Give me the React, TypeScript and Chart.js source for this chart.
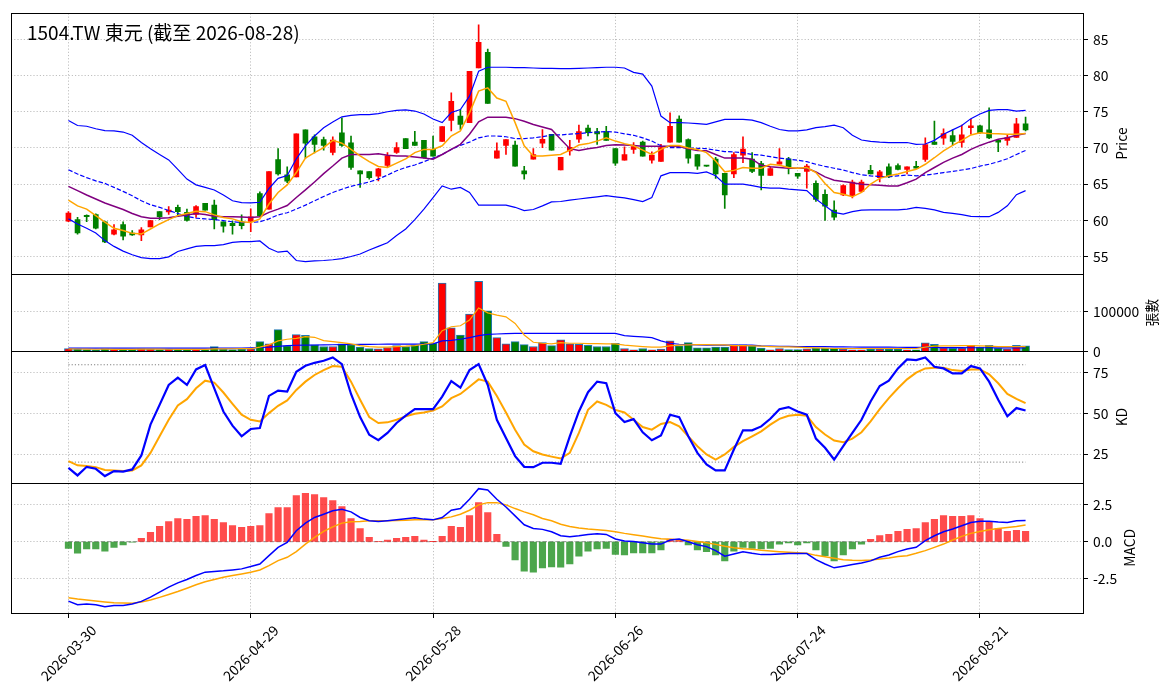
import { useEffect, useRef } from "react";
import Chart from "chart.js/auto";

const title = "1504.TW 東元 (截至 2026-08-28)";

const dates = [
  "2026-03-30", "2026-03-31", "2026-04-01", "2026-04-02", "2026-04-07", "2026-04-08", "2026-04-09", "2026-04-10",
  "2026-04-13", "2026-04-14", "2026-04-15", "2026-04-16", "2026-04-17", "2026-04-20", "2026-04-21", "2026-04-22", "2026-04-23", "2026-04-24",
  "2026-04-27", "2026-04-28", "2026-04-29", "2026-04-30", "2026-05-04", "2026-05-05", "2026-05-06", "2026-05-07", "2026-05-08",
  "2026-05-11", "2026-05-12", "2026-05-13", "2026-05-14", "2026-05-15", "2026-05-18", "2026-05-19", "2026-05-20", "2026-05-21", "2026-05-22",
  "2026-05-25", "2026-05-26", "2026-05-27", "2026-05-28", "2026-05-29", "2026-06-01", "2026-06-02", "2026-06-03", "2026-06-04", "2026-06-05",
  "2026-06-08", "2026-06-09", "2026-06-10", "2026-06-11", "2026-06-12", "2026-06-15", "2026-06-16", "2026-06-17", "2026-06-18",
  "2026-06-22", "2026-06-23", "2026-06-24", "2026-06-25", "2026-06-26", "2026-06-29", "2026-06-30", "2026-07-01", "2026-07-02", "2026-07-03",
  "2026-07-06", "2026-07-07", "2026-07-08", "2026-07-09", "2026-07-10", "2026-07-13", "2026-07-14", "2026-07-15", "2026-07-16", "2026-07-17",
  "2026-07-20", "2026-07-21", "2026-07-22", "2026-07-23", "2026-07-24", "2026-07-27", "2026-07-28", "2026-07-29", "2026-07-30", "2026-07-31",
  "2026-08-03", "2026-08-04", "2026-08-05", "2026-08-06", "2026-08-07", "2026-08-10", "2026-08-11", "2026-08-12", "2026-08-13", "2026-08-14",
  "2026-08-17", "2026-08-18", "2026-08-19", "2026-08-20", "2026-08-21", "2026-08-24", "2026-08-25", "2026-08-26", "2026-08-27", "2026-08-28",
];

// x ticks are every 20 trading days
const xTickIndex = [0, 20, 40, 60, 80, 100];

const openPrices = [
  59.9, 60.1, 60.7, 60.8, 59.8, 58.1, 59.4, 58.25, 58.0, 59.1, 61.2, 61.15, 61.8, 61.1, 60.8, 62.35, 62.1, 59.8, 59.6, 59.8,
  59.85, 63.7, 61.55, 68.4, 66.3, 66.0, 72.5, 71.55, 71.15, 69.4, 72.1, 70.7, 66.85, 66.75, 66.1, 67.6, 69.4, 71.3, 70.8, 71.05,
  69.8, 70.9, 73.8, 74.4, 73.5, 81.05, 83.2, 68.6, 70.35, 70.4, 66.85, 68.45, 70.65, 71.9, 66.95, 69.6, 71.2, 72.75, 72.25, 72.25,
  69.9, 68.3, 69.8, 70.8, 68.3, 68.15, 70.8, 74.0, 71.15, 69.1, 67.55, 68.45, 66.5, 66.4, 69.0, 68.45, 67.85, 66.2, 67.75, 68.5,
  66.5, 66.75, 65.1, 63.6, 61.4, 63.5, 63.4, 64.0, 66.9, 65.9, 67.4, 67.55, 67.05, 67.45, 68.4, 70.8, 71.35, 71.7, 70.75, 72.8,
  73.05, 72.5, 71.05, 71.05, 71.45, 73.35,
];
const highPrices = [
  61.2, 60.4, 60.75, 60.9, 59.9, 59.4, 59.8, 58.6, 59.0, 60.0, 61.2, 61.9, 62.1, 61.55, 62.05, 62.35, 62.8, 59.8, 59.9, 60.75,
  61.6, 63.95, 66.75, 69.9, 67.4, 71.95, 72.5, 71.8, 71.5, 71.55, 74.15, 71.65, 66.85, 66.75, 67.2, 69.35, 70.75, 71.3, 72.3, 71.05,
  71.65, 72.95, 77.6, 75.3, 80.6, 87.0, 83.65, 70.7, 71.15, 70.95, 67.45, 69.9, 72.55, 71.9, 68.7, 71.05, 73.15, 73.15, 72.7, 73.0,
  69.9, 70.15, 70.75, 70.95, 69.45, 70.5, 74.85, 74.45, 71.25, 69.1, 67.6, 68.7, 66.5, 69.35, 71.55, 69.35, 68.15, 67.4, 69.9, 68.7,
  66.5, 67.75, 65.45, 64.2, 62.7, 64.9, 65.55, 65.55, 67.6, 66.9, 67.8, 67.8, 67.4, 68.15, 71.4, 73.7, 72.65, 72.5, 73.15, 73.95,
  73.15, 75.55, 71.05, 71.75, 74.1, 74.25,
];
const lowPrices = [
  59.8, 58.1, 59.8, 58.8, 56.9, 58.0, 57.3, 57.9, 57.2, 59.1, 60.1, 60.8, 60.5, 59.9, 60.4, 61.4, 58.8, 58.35, 58.1, 58.8,
  58.45, 60.55, 61.55, 66.25, 65.2, 66.0, 68.6, 69.3, 69.7, 69.05, 70.2, 67.05, 64.55, 65.7, 65.45, 67.4, 69.25, 69.9, 70.35, 68.6,
  68.85, 70.9, 72.35, 72.55, 73.5, 81.05, 76.15, 68.6, 69.1, 67.5, 65.7, 68.45, 70.05, 69.7, 66.95, 69.0, 70.75, 71.65, 70.5, 71.05,
  67.6, 68.3, 69.25, 68.85, 67.9, 68.15, 70.8, 70.8, 67.9, 67.05, 67.45, 65.8, 61.65, 65.9, 67.95, 66.6, 64.2, 66.2, 67.75, 66.4,
  65.8, 64.45, 62.6, 60.0, 60.05, 63.4, 63.1, 63.9, 66.4, 65.3, 65.9, 66.95, 66.4, 67.2, 68.15, 70.5, 70.5, 70.4, 70.1, 71.9,
  72.0, 71.3, 69.5, 70.4, 71.45, 72.35,
];
const closePrices = [
  61.0, 58.25, 60.5, 58.9, 57.0, 58.7, 57.8, 58.0, 58.7, 59.95, 60.5, 61.4, 61.2, 60.0, 61.9, 61.4, 60.1, 59.2, 59.25, 59.25,
  60.5, 60.6, 66.75, 66.4, 65.4, 71.95, 70.65, 70.5, 70.35, 71.1, 70.35, 67.3, 66.4, 65.9, 67.1, 68.9, 70.05, 69.9, 70.35, 68.65,
  68.85, 72.95, 76.45, 73.25, 80.6, 84.6, 76.15, 69.6, 71.15, 67.5, 66.4, 69.1, 71.2, 69.7, 68.7, 70.1, 72.25, 72.1, 71.95, 71.05,
  67.9, 69.1, 70.2, 68.85, 69.0, 70.05, 73.0, 70.8, 68.6, 67.5, 67.5, 66.4, 63.5, 69.1, 69.85, 66.75, 66.2, 67.15, 68.1, 67.4,
  66.1, 67.5, 62.9, 61.95, 60.45, 64.8, 65.3, 65.3, 66.4, 66.7, 66.0, 67.05, 67.4, 67.2, 70.45, 70.5, 72.0, 70.9, 71.8, 73.05,
  72.1, 71.4, 70.8, 71.45, 73.35, 72.5,
];

const ma5 = [
  62.8, 62.0, 61.55, 60.65, 59.75, 58.9, 58.6, 58.2, 58.1, 58.8, 59.5, 60.1, 60.65, 60.95, 61.25, 61.2, 60.75, 60.4, 60.2, 59.8,
  59.7, 60.2, 62.25, 63.85, 64.9, 66.6, 68.6, 69.35, 70.05, 71.05, 70.65, 69.8, 68.9, 68.1, 67.45, 67.3, 67.9, 68.5, 69.35, 69.8,
  69.8, 70.3, 71.65, 72.35, 74.85, 77.85, 78.3, 76.9, 76.45, 73.5, 70.3, 68.9, 68.9, 69.0, 69.1, 69.7, 70.4, 70.6, 70.95, 71.4,
  70.95, 70.6, 70.3, 69.7, 69.1, 69.8, 70.35, 70.35, 70.0, 69.8, 69.35, 68.2, 66.7, 66.9, 67.3, 67.2, 67.2, 67.75, 67.6, 67.3,
  67.2, 67.3, 66.6, 65.1, 63.85, 63.6, 63.25, 63.85, 65.0, 65.8, 66.15, 66.4, 66.75, 67.05, 67.75, 68.65, 69.6, 70.35, 71.05, 71.8,
  72.1, 72.0, 71.95, 71.9, 71.9, 72.0,
];
const ma10 = [
  64.7, 64.1, 63.5, 62.95, 62.4, 61.95, 61.5, 60.95, 60.5, 60.3, 60.3, 60.35, 60.55, 60.75, 60.95, 60.8, 60.55, 60.5, 60.5, 60.45,
  60.4, 60.5, 61.1, 61.55, 62.05, 63.15, 64.2, 65.3, 66.45, 67.5, 68.6, 69.1, 69.1, 69.1, 69.2, 69.0, 68.9, 68.9, 68.75, 68.6,
  68.45, 69.1, 69.8, 70.5, 71.9, 73.6, 74.25, 74.25, 74.25, 74.05, 73.7, 73.25, 72.9, 72.55, 71.2, 69.9, 69.65, 69.9, 70.05, 70.35,
  70.45, 70.4, 70.35, 70.25, 70.25, 70.25, 70.25, 70.2, 69.9, 69.65, 69.6, 69.1, 68.6, 68.6, 68.6, 68.45, 67.6, 67.4, 67.3, 67.2,
  67.2, 67.2, 66.7, 66.0, 65.55, 65.35, 65.2, 65.0, 64.9, 64.85, 64.75, 64.75, 65.2, 65.7, 66.6, 67.3, 68.0, 68.6, 69.1, 69.8,
  70.35, 70.8, 71.2, 71.4, 71.75, 72.0,
];
const bbUpper = [
  73.8, 73.1, 73.0, 72.65, 72.4, 72.35, 72.2, 71.75, 70.75, 69.9, 69.1, 68.35, 67.05, 65.7, 64.9, 64.55, 64.2, 63.5, 62.7, 62.45,
  62.4, 62.5, 64.4, 65.8, 66.2, 68.5, 70.3, 71.65, 72.8, 73.6, 74.3, 74.5, 74.6, 74.6, 74.75, 75.0, 75.2, 75.25, 75.1, 74.7,
  74.0, 73.5, 74.9, 75.3, 77.15, 80.6, 81.15, 81.15, 81.15, 81.1, 81.1, 81.05, 81.0, 81.0, 80.95, 80.95, 81.0, 81.05, 81.1, 81.15,
  81.15, 81.05, 80.45, 80.2, 78.55, 74.4, 73.5, 73.5, 73.45, 73.35, 73.25, 73.6, 73.95, 73.95, 73.95, 73.85, 73.5, 73.0, 72.55, 72.35,
  72.35, 72.5, 72.8, 72.95, 73.15, 72.8, 71.75, 71.1, 70.9, 70.8, 70.75, 70.75, 70.75, 70.5, 70.55, 71.05, 71.9, 72.5, 73.1, 74.05,
  74.7, 75.2, 75.3, 75.3, 75.1, 75.2,
];
const bbMid = [
  67.0, 66.4, 65.9, 65.45, 65.1, 64.55, 64.0, 63.4, 62.7, 62.15, 61.8, 61.35, 60.95, 60.55, 60.3, 60.2, 60.1, 59.95, 59.8, 59.7,
  59.7, 59.8, 60.2, 60.75, 61.05, 61.55, 62.1, 62.7, 63.3, 63.85, 64.3, 64.7, 65.0, 65.3, 65.7, 66.25, 66.85, 67.3, 67.65, 68.1,
  68.6, 69.1, 69.8, 70.35, 70.8, 71.4, 71.65, 71.65, 71.55, 71.3, 71.3, 71.4, 71.55, 71.8, 71.8, 71.9, 72.0, 72.1, 72.2, 72.25,
  72.2, 71.95, 71.75, 71.4, 70.95, 70.3, 70.05, 70.05, 70.0, 69.95, 69.9, 69.7, 69.5, 69.45, 69.35, 69.1, 69.0, 68.8, 68.6, 68.45,
  68.3, 68.1, 67.75, 67.45, 67.2, 66.95, 66.6, 66.3, 66.15, 66.05, 66.05, 66.15, 66.25, 66.15, 66.25, 66.4, 66.6, 66.75, 66.95, 67.15,
  67.5, 67.75, 68.1, 68.5, 69.1, 69.65,
];
const bbLower = [
  60.2, 59.5, 58.9, 58.25, 57.2, 56.4, 55.75, 55.25, 54.85, 54.7, 54.7, 54.95, 55.7, 56.05, 56.4, 56.5, 56.5, 56.65, 56.95, 57.05,
  57.05, 57.15, 56.15, 55.6, 55.75, 54.45, 54.3, 54.4, 54.45, 54.55, 54.7, 55.0, 55.35, 55.9, 56.4, 56.9, 57.9, 58.8, 60.1, 61.55,
  63.15, 64.75, 64.3, 64.55, 63.85, 62.1, 62.1, 62.1, 62.1, 61.8, 61.35, 61.5, 62.0, 62.55, 62.6, 62.8, 62.95, 63.1, 63.25, 63.4,
  63.25, 63.1, 62.85, 62.6, 63.15, 66.15, 66.6, 66.6, 66.6, 66.5, 66.7, 66.15, 65.0, 65.0, 65.0, 64.8, 64.55, 64.45, 64.45, 64.3,
  64.2, 64.1, 62.95, 62.0, 61.1, 60.85, 61.2, 61.4, 61.45, 61.45, 61.45, 61.45, 61.55, 61.8, 61.65, 61.45, 61.1, 60.95, 60.8, 60.55,
  60.5, 60.5, 61.1, 62.0, 63.55, 64.1,
];

const volumes = [
  7000, 6000, 5000, 4000, 6500, 5000, 6000, 5500, 6500, 5500, 5000, 5500, 5000, 4500, 6000, 5000, 12000, 6000, 5000, 5500,
  6500, 25000, 19000, 55000, 14000, 42400, 40800, 16600, 12400, 12400, 19100, 16600, 10800, 7400, 6600, 9900, 14900, 12400, 16600, 24900,
  20800, 172400, 59900, 41600, 94100, 177200, 102400, 34900, 19100, 24900, 17400, 12400, 22400, 14900, 29500, 19100, 18300, 15700, 12400, 12400,
  20800, 7400, 4100, 7400, 4100, 5750, 27000, 14100, 22400, 9100, 9000, 10750, 10750, 16600, 16600, 14100, 8250, 4100, 7400, 5000,
  5000, 6600, 8250, 8250, 8250, 5750, 4100, 4100, 5750, 5750, 5750, 5750, 4100, 4100, 22000, 18000, 9000, 8000, 8250, 15500,
  10750, 15500, 8250, 6500, 15700, 14100,
];
const volMa5 = [
  6500, 6200, 5800, 5600, 5700, 5300, 5300, 5400, 5800, 5700, 5700, 5600, 5500, 5300, 5300, 5200, 6600, 6700, 6800, 6900,
  6900, 10900, 16600, 26600, 30750, 33250, 37400, 35750, 27400, 24900, 22400, 19100, 14900, 12400, 10750, 10750, 12400, 13250, 14900, 18250,
  22400, 52400, 62400, 64900, 79100, 109900, 97400, 91600, 87400, 70750, 41600, 23300, 20750, 19100, 22400, 20750, 20750, 20000, 20000, 19100,
  19100, 15750, 14100, 12400, 10750, 10750, 14100, 15750, 16600, 17400, 17400, 16600, 16600, 14900, 14900, 14100, 13250, 12400, 11600, 11600,
  10750, 9900, 9100, 8250, 7400, 7400, 7400, 7400, 7400, 7400, 7400, 7400, 7400, 7400, 10750, 13250, 14100, 14100, 14900, 14900,
  14100, 13250, 12400, 12400, 12400, 12400,
];
const volMa20 = [
  8500, 8500, 8500, 8500, 8500, 8500, 8500, 8500, 8500, 8500, 8500, 8500, 8500, 8500, 8500, 8500, 8500, 8500, 8500, 8500,
  9000, 10000, 11000, 13000, 14500, 15700, 16000, 16300, 16600, 16900, 17200, 17500, 17800, 18000, 18200, 18300, 18300, 18300, 18300, 18600,
  19100, 26600, 28000, 30750, 35000, 40000, 43300, 44000, 44800, 45750, 45750, 45750, 45750, 45750, 45750, 45750, 45750, 45750, 45750, 45750,
  45750, 39900, 38000, 36600, 35000, 26600, 20750, 18250, 17400, 16600, 15750, 15750, 15750, 15750, 15750, 15750, 14100, 13600, 13200, 12800,
  12400, 12400, 12400, 12000, 11600, 11400, 11200, 11000, 10900, 10800, 10700, 10600, 10500, 10300, 10100, 10000, 9800, 9600, 9500, 9400,
  9300, 9300, 9200, 9200, 9100, 9100,
];

const kLine = [
  16.5, 11.8, 17.1, 15.9, 11.4, 14.5, 14.1, 15.5, 24.1, 43.1, 55.3, 67.55, 72.0, 67.55, 77.1, 79.8, 65.5, 51.2, 42.45, 35.9,
  40.4, 41.0, 60.8, 64.1, 63.5, 75.7, 79.4, 81.2, 82.45, 84.5, 80.4, 62.0, 47.75, 36.9, 33.5, 38.0, 44.1, 48.6, 52.65, 52.65,
  52.65, 60.4, 70.0, 65.9, 76.7, 80.4, 67.55, 46.1, 34.9, 23.7, 17.1, 16.9, 19.6, 19.6, 19.0, 35.9, 51.2, 63.1, 69.6, 68.6,
  50.2, 44.7, 46.5, 38.4, 33.5, 36.5, 49.2, 47.75, 35.9, 25.7, 18.6, 14.9, 14.9, 27.75, 39.6, 39.6, 42.0, 46.7, 52.65, 53.9,
  51.2, 49.2, 34.5, 28.8, 21.6, 29.8, 38.0, 46.1, 57.35, 66.9, 70.2, 77.75, 83.3, 82.9, 84.5, 78.8, 77.75, 74.7, 74.7, 79.2,
  77.75, 69.6, 58.4, 48.2, 53.3, 51.8,
];
const dLine = [
  20.6, 18.0, 17.55, 16.9, 15.1, 14.9, 14.5, 14.9, 18.0, 25.7, 35.9, 46.1, 54.9, 58.8, 65.5, 70.2, 69.0, 62.9, 55.9, 49.2,
  46.1, 45.1, 50.2, 54.7, 58.0, 64.5, 69.6, 73.7, 76.7, 79.2, 78.8, 69.6, 58.4, 47.75, 44.1, 44.5, 46.1, 48.2, 49.8, 50.6,
  51.8, 54.3, 59.4, 62.0, 66.5, 71.0, 69.6, 60.8, 50.6, 40.0, 30.8, 26.7, 24.7, 23.4, 22.2, 25.7, 38.0, 52.2, 57.35, 55.3,
  52.2, 50.6, 46.1, 41.6, 40.0, 43.5, 44.7, 42.0, 35.9, 29.8, 24.7, 21.6, 24.7, 29.4, 32.9, 35.9, 39.0, 43.1, 46.7, 48.6,
  49.2, 48.6, 41.6, 37.0, 33.3, 32.2, 34.5, 38.4, 45.1, 52.65, 59.4, 65.5, 71.0, 75.1, 77.75, 78.2, 78.2, 76.7, 76.1, 77.1,
  77.1, 74.1, 68.6, 62.0, 59.0, 56.3,
];
const kdLevels = [20, 80];

const macdLine = [
  -4.0, -4.24, -4.2, -4.24, -4.38, -4.29, -4.29, -4.2, -4.02, -3.73, -3.39, -3.06, -2.77, -2.54, -2.28, -2.05, -2.0, -1.96, -1.9, -1.83,
  -1.67, -1.5, -0.94, -0.38, -0.04, 0.74, 1.25, 1.63, 1.85, 2.08, 2.19, 2.01, 1.63, 1.41, 1.36, 1.41, 1.47, 1.54, 1.61, 1.52,
  1.47, 1.63, 2.12, 2.23, 2.86, 3.57, 3.48, 2.86, 2.34, 1.74, 1.14, 0.89, 0.83, 0.67, 0.4, 0.33, 0.4, 0.49, 0.54, 0.49,
  0.18, 0.04, 0.02, -0.07, -0.16, -0.16, 0.11, 0.18, 0.0, -0.2, -0.33, -0.6, -0.98, -0.83, -0.67, -0.78, -0.87, -0.87, -0.83, -0.8,
  -0.8, -0.8, -1.21, -1.5, -1.76, -1.65, -1.54, -1.43, -1.29, -1.05, -0.89, -0.67, -0.49, -0.38, 0.07, 0.4, 0.67, 0.85, 1.07, 1.29,
  1.38, 1.38, 1.32, 1.29, 1.41, 1.43,
];
const signalLine = [
  -3.77, -3.86, -3.93, -4.0, -4.06, -4.11, -4.13, -4.15, -4.06, -3.93, -3.75, -3.55, -3.35, -3.13, -2.9, -2.7, -2.54, -2.39, -2.28, -2.17,
  -2.05, -1.9, -1.61, -1.27, -1.05, -0.67, -0.16, 0.29, 0.69, 1.0, 1.25, 1.34, 1.36, 1.41, 1.41, 1.41, 1.43, 1.45, 1.47, 1.47,
  1.47, 1.56, 1.67, 1.85, 2.12, 2.48, 2.63, 2.63, 2.48, 2.23, 2.01, 1.81, 1.56, 1.41, 1.18, 1.03, 0.92, 0.85, 0.8, 0.76,
  0.67, 0.56, 0.47, 0.38, 0.29, 0.2, 0.16, 0.13, 0.09, 0.02, -0.07, -0.18, -0.31, -0.4, -0.47, -0.51, -0.58, -0.63, -0.67, -0.71,
  -0.74, -0.78, -0.92, -1.02, -1.12, -1.21, -1.25, -1.27, -1.23, -1.16, -1.09, -1.0, -0.94, -0.78, -0.6, -0.38, -0.16, 0.11, 0.36, 0.56,
  0.69, 0.8, 0.89, 0.96, 1.03, 1.12,
];
const macdHist = [
  -0.45, -0.78, -0.49, -0.49, -0.63, -0.38, -0.22, -0.02, 0.22, 0.63, 1.03, 1.36, 1.56, 1.5, 1.7, 1.76, 1.5, 1.29, 1.09, 0.96,
  1.03, 1.09, 1.9, 2.3, 2.3, 3.1, 3.26, 3.17, 2.97, 2.77, 2.37, 1.56, 0.89, 0.29, 0.02, 0.11, 0.22, 0.29, 0.36, 0.11,
  0.01, 0.36, 1.03, 0.96, 1.76, 2.63, 1.96, 0.49, -0.31, -1.23, -1.99, -2.05, -1.76, -1.7, -1.72, -1.5, -0.98, -0.63, -0.49, -0.45,
  -0.85, -0.89, -0.76, -0.76, -0.76, -0.56, 0.18, 0.13, -0.22, -0.56, -0.67, -0.89, -1.29, -0.63, -0.38, -0.45, -0.49, -0.45, -0.16, -0.09,
  -0.22, -0.09, -0.56, -0.94, -1.29, -0.89, -0.49, -0.16, 0.16, 0.42, 0.49, 0.69, 0.83, 0.89, 1.29, 1.5, 1.76, 1.7, 1.7, 1.76,
  1.56, 1.34, 0.89, 0.69, 0.76, 0.69,
];
const macdLevels = [0];

const priceTicks = [55, 60, 65, 70, 75, 80, 85];
const volumeTicks = [0, 100000];
const kdTicks = [25, 50, 75];
const macdTicks = [-2.5, 0, 2.5];

const FONT = "'Noto Sans CJK TC', 'Noto Sans', sans-serif";
const TICK_PX = 13.9;
const UP = "#ff0000";
const DOWN = "#008000";
const GRID = "#b0b0b0";

const candleColors = closePrices.map((c, i) => (c >= openPrices[i] ? UP : DOWN));
const toPoints = (values: number[]) => values.map((y, x) => ({ x, y }));
const levelPoints = (level: number) => [
  { x: 0, y: level },
  { x: dates.length - 1, y: level },
];

function lineSet(values: any[], axis: string, color: string, width: number, order: number, dash: number[] = []) {
  return {
    type: "line" as const,
    data: values,
    yAxisID: axis,
    borderColor: color,
    borderWidth: width,
    borderDash: dash,
    pointRadius: 0,
    tension: 0,
    fill: false,
    order,
  };
}

function panelScale(min: number, max: number, weight: number, ticks: number[], fmt: (v: number) => string) {
  return {
    type: "linear" as const,
    position: "right" as const,
    stack: "panels",
    stackWeight: weight,
    offset: false,
    min,
    max,
    afterBuildTicks: (scale: any) => {
      scale.ticks = ticks.map((value) => ({ value }));
    },
    afterFit: (scale: any) => {
      scale.width = 88;
    },
    ticks: {
      color: "#000",
      font: { size: TICK_PX, family: FONT },
      padding: 5,
      callback: (v: any) => fmt(Number(v)),
    },
    grid: { color: GRID, lineWidth: 0.8, tickColor: "#000", tickLength: 5, tickWidth: 1, offset: false },
    border: { display: false, dash: [1.2, 2] },
  };
}

const panels = [
  { id: "yPrice", label: "Price", fmt: (v: number) => String(v) },
  { id: "yVol", label: "張數", fmt: (v: number) => String(v) },
  { id: "yKd", label: "KD", fmt: (v: number) => String(v) },
  { id: "yMacd", label: "MACD", fmt: (v: number) => v.toFixed(1) },
];

const decorPlugin = {
  id: "decor",
  afterDraw(chart: any) {
    const { ctx, chartArea } = chart;
    ctx.save();

    // panel frames
    ctx.strokeStyle = "#000";
    ctx.lineWidth = 1;
    for (const p of panels) {
      const s = chart.scales[p.id];
      const top = Math.round(s.top) + 0.5;
      const bottom = Math.round(s.bottom) + 0.5;
      const left = Math.round(chartArea.left) + 0.5;
      const right = Math.round(chartArea.right) + 0.5;
      ctx.strokeRect(left, top, right - left, bottom - top);
    }

    // axis titles on the right, read bottom to top
    ctx.fillStyle = "#000";
    for (const p of panels) {
      const s = chart.scales[p.id];
      ctx.font = `${TICK_PX}px ${FONT}`;
      const maxW = Math.max(...s.ticks.map((t: any) => ctx.measureText(p.fmt(t.value)).width));
      const x = s.left + 5 + 5 + maxW + 6 + TICK_PX / 2;
      const y = (s.top + s.bottom) / 2;
      ctx.save();
      ctx.translate(x, y);
      ctx.rotate(-Math.PI / 2);
      ctx.textAlign = "center";
      ctx.textBaseline = "middle";
      ctx.fillText(p.label, 0, 0);
      ctx.restore();
    }

    // rotated date labels, centred under each tick
    const xs = chart.scales.x;
    ctx.font = `${TICK_PX}px ${FONT}`;
    for (const idx of xTickIndex) {
      const label = dates[idx];
      const w = ctx.measureText(label).width;
      const boxH = (w + TICK_PX) * Math.SQRT1_2;
      const x = xs.getPixelForValue(idx);
      const y = chartArea.bottom + 5 + 5 + boxH / 2;
      ctx.save();
      ctx.translate(x, y);
      ctx.rotate(-Math.PI / 4);
      ctx.textAlign = "center";
      ctx.textBaseline = "middle";
      ctx.fillText(label, 0, 0);
      ctx.restore();
    }

    // title inside the price panel
    ctx.font = `19px ${FONT}`;
    ctx.textAlign = "left";
    ctx.textBaseline = "alphabetic";
    ctx.fillText(title, chartArea.left + 16, chartArea.top + 27);

    ctx.restore();
  },
};

export default function App() {
  const canvasRef = useRef<HTMLCanvasElement | null>(null);
  const chartRef = useRef<Chart | null>(null);

  useEffect(() => {
    if (!canvasRef.current) return;

    if (chartRef.current) {
      chartRef.current.destroy();
      chartRef.current = null;
    }

    const datasets: any[] = [
      // price panel
      {
        type: "bar",
        data: dates.map((_, i) => ({ x: i, y: [lowPrices[i], highPrices[i]] })),
        yAxisID: "yPrice",
        backgroundColor: candleColors,
        barThickness: 1,
        grouped: false,
        order: 20,
      },
      {
        type: "bar",
        data: dates.map((_, i) => ({ x: i, y: [openPrices[i], closePrices[i]] })),
        yAxisID: "yPrice",
        backgroundColor: candleColors,
        barThickness: 5,
        minBarLength: 1,
        grouped: false,
        order: 19,
      },
      lineSet(toPoints(bbUpper), "yPrice", "#0000ff", 1.2, 6),
      lineSet(toPoints(bbLower), "yPrice", "#0000ff", 1.2, 6),
      lineSet(toPoints(bbMid), "yPrice", "#0000ff", 1.2, 6, [4.5, 2]),
      lineSet(toPoints(ma10), "yPrice", "#800080", 1.5, 5),
      lineSet(toPoints(ma5), "yPrice", "#ffa500", 1.5, 4),

      // volume panel
      {
        type: "bar",
        data: toPoints(volumes),
        yAxisID: "yVol",
        backgroundColor: candleColors,
        borderColor: "#1f77b4",
        borderWidth: 1,
        barThickness: 8,
        grouped: false,
        order: 20,
      },
      lineSet(toPoints(volMa20), "yVol", "#0000ff", 1.2, 5),
      lineSet(toPoints(volMa5), "yVol", "#ffa500", 1.2, 4),

      // KD panel
      ...kdLevels.map((lv) => lineSet(levelPoints(lv), "yKd", "#808080", 1, 20, [1.2, 2])),
      lineSet(toPoints(dLine), "yKd", "#ffa500", 2, 5),
      lineSet(toPoints(kLine), "yKd", "#0000ff", 2.2, 4),

      // MACD panel
      ...macdLevels.map((lv) => lineSet(levelPoints(lv), "yMacd", "#909090", 1, 21, [4, 2.5])),
      {
        type: "bar",
        data: toPoints(macdHist),
        yAxisID: "yMacd",
        backgroundColor: macdHist.map((v) => (v >= 0 ? "rgba(255,0,0,0.7)" : "rgba(0,128,0,0.7)")),
        barThickness: 6.5,
        grouped: false,
        order: 20,
      },
      lineSet(toPoints(signalLine), "yMacd", "#ffa500", 1.5, 5),
      lineSet(toPoints(macdLine), "yMacd", "#0000ff", 1.5, 4),
    ];

    chartRef.current = new Chart(canvasRef.current, {
      type: "line",
      data: { datasets },
      plugins: [decorPlugin],
      options: {
        responsive: true,
        maintainAspectRatio: false,
        animation: false,
        events: [],
        layout: { padding: { left: 11, top: 10, right: 0, bottom: 0 } },
        plugins: {
          legend: { display: false },
          tooltip: { enabled: false },
        },
        scales: {
          x: {
            type: "linear",
            position: "bottom",
            offset: false,
            min: -6.3,
            max: 111.3,
            afterBuildTicks: (scale: any) => {
              scale.ticks = xTickIndex.map((value) => ({ value }));
            },
            afterFit: (scale: any) => {
              scale.height = 85;
            },
            ticks: { display: false },
            grid: { color: GRID, lineWidth: 0.8, tickColor: "#000", tickLength: 5, tickWidth: 1, offset: false },
            border: { display: false, dash: [1.2, 2] },
          },
          yPrice: panelScale(52.6, 88.6, 262, priceTicks, panels[0].fmt),
          yVol: panelScale(0, 195750, 78, volumeTicks, panels[1].fmt),
          yKd: panelScale(7.3, 88.2, 132, kdTicks, panels[2].fmt),
          yMacd: panelScale(-4.8, 3.97, 131, macdTicks, panels[3].fmt),
        },
      } as any,
    });

    return () => {
      if (chartRef.current) {
        chartRef.current.destroy();
        chartRef.current = null;
      }
    };
  }, []);

  return (
    <div style={{ position: "absolute", left: 0, top: 0, width: 1171, height: 698, background: "#fff" }}>
      <canvas ref={canvasRef} />
    </div>
  );
}
